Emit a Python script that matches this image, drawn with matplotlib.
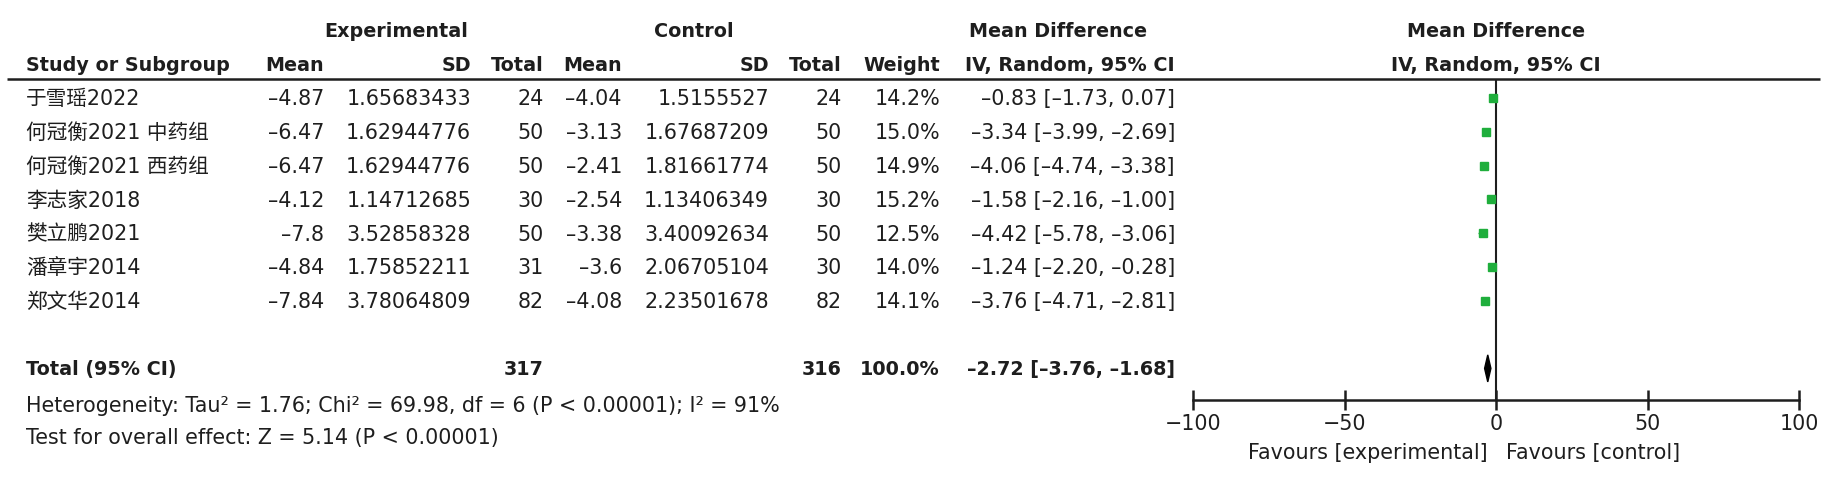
import matplotlib
matplotlib.use("Agg")
import matplotlib.pyplot as plt
from matplotlib.patches import Polygon

plt.rcParams["font.family"] = ["DejaVu Sans", "Noto Sans CJK SC"]

# study data
studies = ["于雪瑶2022", "何冠衡2021 中药组", "何冠衡2021 西药组", "李志家2018",
           "樊立鹏2021", "潘章宇2014", "郑文华2014"]
exp_mean = [-4.87, -6.47, -6.47, -4.12, -7.8, -4.84, -7.84]
exp_sd = [1.65683433, 1.62944776, 1.62944776, 1.14712685, 3.52858328, 1.75852211, 3.78064809]
exp_n = [24, 50, 50, 30, 50, 31, 82]
ctl_mean = [-4.04, -3.13, -2.41, -2.54, -3.38, -3.6, -4.08]
ctl_sd = [1.5155527, 1.67687209, 1.81661774, 1.13406349, 3.40092634, 2.06705104, 2.23501678]
ctl_n = [24, 50, 50, 30, 50, 30, 82]
weight = [14.2, 15.0, 14.9, 15.2, 12.5, 14.0, 14.1]
md = [-0.83, -3.34, -4.06, -1.58, -4.42, -1.24, -3.76]
ci_lo = [-1.73, -3.99, -4.74, -2.16, -5.78, -2.20, -4.71]
ci_hi = [0.07, -2.69, -3.38, -1.00, -3.06, -0.28, -2.81]

total_weight = 100.0
pooled_md = -2.72
pooled_lo = -3.76
pooled_hi = -1.68

heterogeneity = "Heterogeneity: Tau² = 1.76; Chi² = 69.98, df = 6 (P < 0.00001); I² = 91%"
overall_test = "Test for overall effect: Z = 5.14 (P < 0.00001)"
x_ticks = [-100, -50, 0, 50, 100]

W, H = 1823, 478
ROW0, ROW_H = 98, 33.8
TEXT = "#1e1e1e"
GREEN = "#1fae3c"
FS = 14.9
FS_B = 13.8


def to_row(y_px):
    return (y_px - ROW0) / ROW_H


def dash(s):
    return s.replace("-", "–")


fig = plt.figure(figsize=(W / 100, H / 100), dpi=100)
ax_t = fig.add_axes([0, 0, 1, 1])
ax_t.set_xlim(0, W)
ax_t.set_ylim(to_row(H), to_row(0))
ax_t.axis("off")


def put(x, row, s, ha="right", bold=False, size=None):
    fs = size or (FS_B if bold else FS)
    # baseline sits half a cap height below the row centre
    ax_t.text(x, row + 0.36 * fs / 72 * 100 / ROW_H, s, ha=ha, va="baseline",
              fontsize=fs, fontweight="bold" if bold else "normal", color=TEXT)


col_right = [324, 471, 544, 622, 769, 842, 940, 1175]
label_x = 26

# headers
put(396, -2, "Experimental", ha="center", bold=True)
put(694, -2, "Control", ha="center", bold=True)
put(1058, -2, "Mean Difference", ha="center", bold=True)
put(1496, -2, "Mean Difference", ha="center", bold=True)
put(label_x, -1, "Study or Subgroup", ha="left", bold=True)
for x, s in zip(col_right, ["Mean", "SD", "Total", "Mean", "SD", "Total", "Weight", "IV, Random, 95% CI"]):
    put(x, -1, s, bold=True)
put(1496, -1, "IV, Random, 95% CI", ha="center", bold=True)
ax_t.hlines(to_row(79), 7, 1820, color=TEXT, lw=1.8)

# study rows
for i, name in enumerate(studies):
    put(label_x, i, name, ha="left")
    cells = [dash(str(exp_mean[i])), str(exp_sd[i]), str(exp_n[i]),
             dash(str(ctl_mean[i])), str(ctl_sd[i]), str(ctl_n[i]),
             f"{weight[i]:.1f}%",
             dash(f"{md[i]:.2f} [{ci_lo[i]:.2f}, {ci_hi[i]:.2f}]")]
    for x, s in zip(col_right, cells):
        put(x, i, s)

# total row
total_row = len(studies) + 1
put(label_x, total_row, "Total (95% CI)", ha="left", bold=True)
put(col_right[2], total_row, str(sum(exp_n)), bold=True)
put(col_right[5], total_row, str(sum(ctl_n)), bold=True)
put(col_right[6], total_row, f"{total_weight:.1f}%", bold=True)
put(col_right[7], total_row, dash(f"{pooled_md:.2f} [{pooled_lo:.2f}, {pooled_hi:.2f}]"), bold=True)

put(label_x, to_row(405), heterogeneity, ha="left")
put(label_x, to_row(437), overall_test, ha="left")
put(1488, to_row(452), "Favours [experimental]")
put(1506, to_row(452), "Favours [control]", ha="left")

# forest panel
left, right, top, bottom = 1193, 1799, 79, 400
ax_f = fig.add_axes([left / W, (H - bottom) / H, (right - left) / W, (bottom - top) / H])
ax_f.set_xlim(x_ticks[0], x_ticks[-1])
ax_f.set_ylim(to_row(bottom), to_row(top))
ax_f.patch.set_alpha(0)
for side in ["left", "right", "top"]:
    ax_f.spines[side].set_visible(False)
ax_f.spines["bottom"].set_linewidth(1.8)
ax_f.spines["bottom"].set_color(TEXT)
ax_f.set_yticks([])
ax_f.set_xticks(x_ticks)
ax_f.tick_params(axis="x", direction="inout", length=14, width=1.8, color=TEXT,
                 labelsize=FS, labelcolor=TEXT, pad=3)
ax_f.axvline(0, color=TEXT, lw=1.5)

for i in range(len(studies)):
    side = 8 * (weight[i] / 15) ** 0.5
    ax_f.hlines(i, ci_lo[i], ci_hi[i], color=GREEN, lw=1)
    ax_f.plot(md[i], i, marker="s", ms=side * 0.72, color=GREEN, mec=GREEN, clip_on=False)

diamond = Polygon([(pooled_lo, total_row), (pooled_md, total_row - 0.4),
                   (pooled_hi, total_row), (pooled_md, total_row + 0.4)],
                  closed=True, color="black", clip_on=False)
ax_f.add_patch(diamond)

fig.savefig("out.png", dpi=100)
